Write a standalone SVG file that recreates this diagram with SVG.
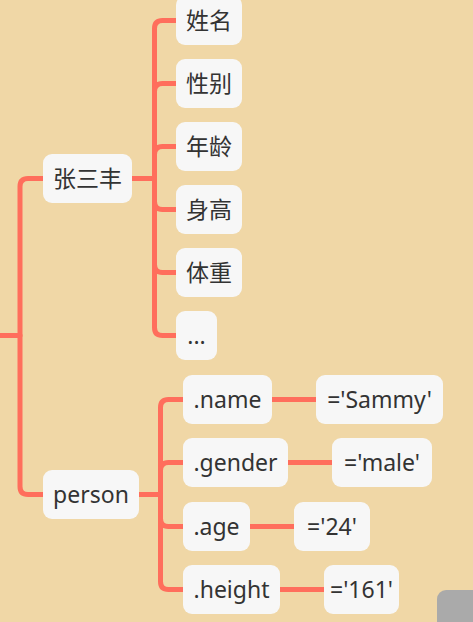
<svg xmlns="http://www.w3.org/2000/svg" width="473" height="622" viewBox="0 0 473 622">
<style>
.bg{fill:#f0d7a6}
.box{fill:#f7f7f7}
.t{font-family:"Noto Sans","Noto Sans CJK SC",sans-serif;font-size:23px;fill:#333333;text-anchor:middle}
.c{fill:none;stroke:#ff6e5c;stroke-width:5;stroke-linecap:butt;stroke-linejoin:round}
</style>
<rect class="bg" x="0" y="0" width="473" height="622"/>
<g id="connectors">
<path class="c" d="M0,335.5 H20 V186.5 Q20,178.5 28,178.5 H43"/>
<path class="c" d="M0,335.5 H20 V486.5 Q20,494.5 28,494.5 H43"/>
<path class="c" d="M132,178.5 H154.5 V28.5 Q154.5,20.5 162.5,20.5 H176"/>
<path class="c" d="M132,178.5 H154.5 V91.5 Q154.5,83.5 162.5,83.5 H176"/>
<path class="c" d="M132,178.5 H154.5 V154.5 Q154.5,146.5 162.5,146.5 H176"/>
<path class="c" d="M132,178.5 H154.5 V201.5 Q154.5,209.5 162.5,209.5 H176"/>
<path class="c" d="M132,178.5 H154.5 V264.5 Q154.5,272.5 162.5,272.5 H176"/>
<path class="c" d="M132,178.5 H154.5 V327.5 Q154.5,335.5 162.5,335.5 H176"/>
<path class="c" d="M139,494.5 H160.5 V407.5 Q160.5,399.5 168.5,399.5 H183"/>
<path class="c" d="M139,494.5 H160.5 V470.5 Q160.5,462.5 168.5,462.5 H183"/>
<path class="c" d="M139,494.5 H160.5 V518.5 Q160.5,526.5 168.5,526.5 H183"/>
<path class="c" d="M139,494.5 H160.5 V581.5 Q160.5,589.5 168.5,589.5 H183"/>
<path class="c" d="M272,399.5 H316"/>
<path class="c" d="M288,462.5 H332"/>
<path class="c" d="M250,526.5 H294"/>
<path class="c" d="M280,589.5 H324"/>
</g>
<g id="n-zhang"><rect class="box" x="43" y="154" width="89" height="49" rx="9"/><text class="t" x="87.5" y="186.5">张三丰</text></g>
<g id="n-name-cn"><rect class="box" x="176" y="-4" width="66" height="49" rx="9"/><text class="t" x="209" y="28.5">姓名</text></g>
<g id="n-gender-cn"><rect class="box" x="176" y="59" width="66" height="49" rx="9"/><text class="t" x="209" y="91.5">性别</text></g>
<g id="n-age-cn"><rect class="box" x="176" y="122" width="66" height="49" rx="9"/><text class="t" x="209" y="154.5">年龄</text></g>
<g id="n-height-cn"><rect class="box" x="176" y="185" width="66" height="49" rx="9"/><text class="t" x="209" y="217.5">身高</text></g>
<g id="n-weight-cn"><rect class="box" x="176" y="248" width="66" height="49" rx="9"/><text class="t" x="209" y="280.5">体重</text></g>
<g id="n-more"><rect class="box" x="176" y="311" width="41" height="49" rx="9"/><text class="t" x="196.5" y="343.5">...</text></g>
<g id="n-person"><rect class="box" x="43" y="470" width="96" height="49" rx="9"/><text class="t" x="91" y="502.5">person</text></g>
<g id="n-name"><rect class="box" x="183" y="375" width="89" height="49" rx="9"/><text class="t" x="227.5" y="407.5">.name</text></g>
<g id="n-gender"><rect class="box" x="183" y="438" width="105" height="49" rx="9"/><text class="t" x="235.5" y="470.5">.gender</text></g>
<g id="n-age"><rect class="box" x="183" y="502" width="67" height="49" rx="9"/><text class="t" x="216.5" y="534.5">.age</text></g>
<g id="n-height"><rect class="box" x="183" y="565" width="97" height="49" rx="9"/><text class="t" x="231.5" y="597.5">.height</text></g>
<g id="n-sammy"><rect class="box" x="316" y="375" width="127" height="49" rx="9"/><text class="t" x="379.5" y="407.5">='Sammy'</text></g>
<g id="n-male"><rect class="box" x="332" y="438" width="100" height="49" rx="9"/><text class="t" x="382" y="470.5">='male'</text></g>
<g id="n-24"><rect class="box" x="294" y="502" width="76" height="49" rx="9"/><text class="t" x="332" y="534.5">='24'</text></g>
<g id="n-161"><rect class="box" x="324" y="565" width="75" height="49" rx="9"/><text class="t" x="361.5" y="597.5">='161'</text></g>
<rect x="437" y="590" width="50" height="50" rx="9" fill="#aaaaaa"/>
</svg>
